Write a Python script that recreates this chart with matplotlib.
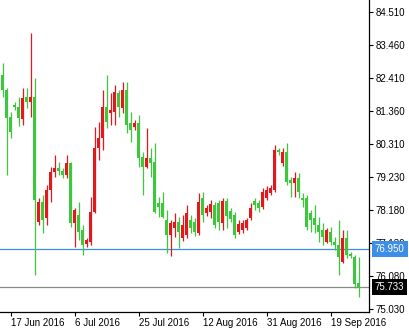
import matplotlib
matplotlib.use("Agg")
import matplotlib.pyplot as plt
import matplotlib.transforms as mtransforms

plt.rcParams['font.family'] = ['Liberation Sans', 'DejaVu Sans']

# Daily candles (15 Jun 2016 .. 27 Sep 2016, broker feed with Sunday bars)
opens = [82.50, 82.02, 81.16, 81.54, 81.48, 81.09, 81.80, 81.64, 81.80, 77.81,
         78.45, 77.93, 78.83, 79.40, 79.53, 79.44, 79.31, 79.69, 77.78, 78.03,
         77.55, 77.11, 77.17, 78.13, 80.17, 80.49, 81.48, 81.29, 81.32, 81.92,
         81.45, 82.02, 80.97, 80.84, 80.97, 79.88, 79.56, 79.85, 79.72, 78.41,
         78.41, 77.87, 77.39, 77.62, 77.81, 77.30, 77.39, 77.87, 77.81, 77.46,
         78.57, 78.09, 78.13, 78.35, 78.41, 77.78, 78.48, 78.16, 78.03, 77.49,
         77.55, 77.62, 77.93, 78.48, 78.41, 78.29, 78.57, 78.73, 78.83, 80.11,
         79.69, 80.04, 79.15, 79.05, 79.21, 78.57, 78.57, 78.09, 77.93, 77.71,
         77.55, 77.17, 77.49, 77.17, 77.07, 76.53, 77.30, 76.79, 76.69, 75.86]
highs = [82.88, 82.08, 81.32, 81.64, 81.80, 82.08, 82.08, 83.84, 82.40, 78.57,
         78.67, 78.99, 79.56, 79.95, 79.72, 79.53, 79.95, 79.72, 78.25, 78.45,
         77.71, 77.30, 78.61, 80.84, 81.00, 82.02, 82.50, 81.92, 82.18, 82.02,
         82.28, 82.28, 81.32, 81.06, 81.22, 80.04, 80.81, 80.17, 80.33, 78.61,
         78.76, 78.19, 77.87, 78.09, 77.97, 78.03, 78.35, 78.03, 77.93, 78.73,
         78.76, 78.35, 78.51, 78.45, 78.51, 78.57, 78.57, 78.25, 78.13, 77.87,
         77.87, 77.93, 78.41, 78.57, 78.51, 78.89, 78.96, 78.99, 80.26, 80.17,
         80.17, 80.33, 79.24, 79.40, 79.37, 78.73, 78.67, 78.19, 78.35, 77.97,
         77.78, 77.62, 77.65, 77.33, 77.87, 77.55, 77.55, 76.85, 76.75, 76.69]
lows = [81.80, 79.31, 80.49, 81.38, 80.87, 80.90, 81.45, 81.16, 76.12, 77.71,
        77.46, 77.71, 78.45, 79.24, 79.31, 79.21, 79.21, 77.65, 77.01, 77.23,
        76.75, 77.01, 77.07, 78.09, 79.79, 80.11, 80.81, 80.90, 80.90, 81.16,
        81.29, 80.65, 80.36, 80.74, 79.56, 78.67, 79.53, 79.24, 78.09, 77.97,
        77.93, 76.82, 76.72, 77.33, 76.98, 77.20, 77.30, 77.46, 77.36, 77.39,
        77.81, 78.00, 77.93, 77.62, 77.55, 77.55, 77.62, 77.81, 77.30, 77.42,
        77.46, 77.55, 77.87, 78.19, 78.13, 78.22, 78.51, 78.67, 78.76, 79.95,
        79.59, 78.99, 78.61, 78.61, 78.57, 78.29, 77.55, 77.49, 77.46, 77.17,
        77.07, 77.14, 77.07, 76.91, 76.12, 76.50, 76.66, 76.66, 75.70, 75.41]
closes = [82.02, 81.13, 80.68, 81.48, 81.13, 81.77, 81.64, 81.80, 78.51, 78.45,
          77.87, 78.83, 79.40, 79.53, 79.44, 79.31, 79.69, 77.78, 78.19, 77.49,
          77.07, 77.23, 78.13, 80.17, 80.49, 81.48, 81.00, 81.38, 81.96, 81.48,
          82.02, 80.90, 80.74, 80.97, 79.85, 79.56, 79.85, 79.69, 78.13, 78.29,
          77.97, 77.39, 77.78, 77.81, 77.49, 77.71, 78.09, 77.62, 77.49, 78.45,
          78.03, 78.25, 78.38, 77.71, 77.81, 78.48, 78.00, 77.90, 77.39, 77.74,
          77.78, 77.87, 78.25, 78.35, 78.25, 78.76, 78.83, 78.89, 80.11, 80.04,
          80.04, 79.08, 79.05, 79.21, 78.76, 78.51, 77.65, 77.87, 77.71, 77.49,
          77.33, 77.55, 77.17, 77.07, 76.69, 77.30, 76.75, 76.72, 75.83, 75.733]

date_tick_bars = [2, 18, 34, 50, 66, 82]
date_tick_labels = ['17 Jun 2016', '6 Jul 2016', '25 Jul 2016',
                    '12 Aug 2016', '31 Aug 2016', '19 Sep 2016']
price_ticks = [75.030, 76.080, 77.130, 78.180, 79.230, 80.310,
               81.360, 82.410, 83.460, 84.510]
level_line = 76.950
last_price = 75.733

UP = '#e3171c'
DOWN = '#3cc73c'
BLUE = '#3d8ee6'
GRAY = '#8a8a8a'

W, H = 410, 332
fig = plt.figure(figsize=(W / 100, H / 100), dpi=100)
ax = fig.add_axes([0, 20 / H, 369 / W, 1 - 20 / H])

for i, (o, h, l, c) in enumerate(zip(opens, highs, lows, closes)):
    col = UP if c >= o else DOWN
    ax.vlines(i, l, h, color=col, lw=0.9, zorder=3)
    lo = min(o, c)
    ht = max(abs(c - o), 0.03)
    ax.bar(i, ht, bottom=lo, width=0.75, color=col, edgecolor=col,
           linewidth=0, zorder=4)

ax.axhline(level_line, color=BLUE, lw=0.9, zorder=2)
ax.axhline(last_price, color=GRAY, lw=0.9, zorder=2)

ax.set_xlim(-0.75, 91.5)
ax.set_ylim(74.935, 84.893)

for s in ['left', 'top']:
    ax.spines[s].set_visible(False)
for s in ['right', 'bottom']:
    ax.spines[s].set_color('black')
    ax.spines[s].set_linewidth(0.9)

ax.yaxis.tick_right()
ax.set_yticks(price_ticks)
ax.set_yticklabels(['%.3f' % v for v in price_ticks])
ax.tick_params(axis='y', direction='out', length=3, width=0.8, pad=2,
               labelsize=7, colors='black')
ax.set_xticks(date_tick_bars)
ax.set_xticklabels(date_tick_labels)
ax.tick_params(axis='x', direction='out', length=3, width=0.8, pad=1.5,
               labelsize=7, colors='black')
for lab in ax.get_xticklabels():
    lab.set_ha('left')

tr = mtransforms.blended_transform_factory(ax.transAxes, ax.transData)
ax.text(1.016, level_line, '%.3f' % level_line, transform=tr, ha='left',
        va='center', fontsize=7, color='white', zorder=10, clip_on=False,
        bbox=dict(boxstyle='square,pad=0.3', fc=BLUE, ec='none'))
ax.text(1.016, last_price, '%.3f' % last_price, transform=tr, ha='left',
        va='center', fontsize=7, color='white', zorder=10, clip_on=False,
        bbox=dict(boxstyle='square,pad=0.3', fc='black', ec='none'))

fig.savefig('out.png', dpi=100)
